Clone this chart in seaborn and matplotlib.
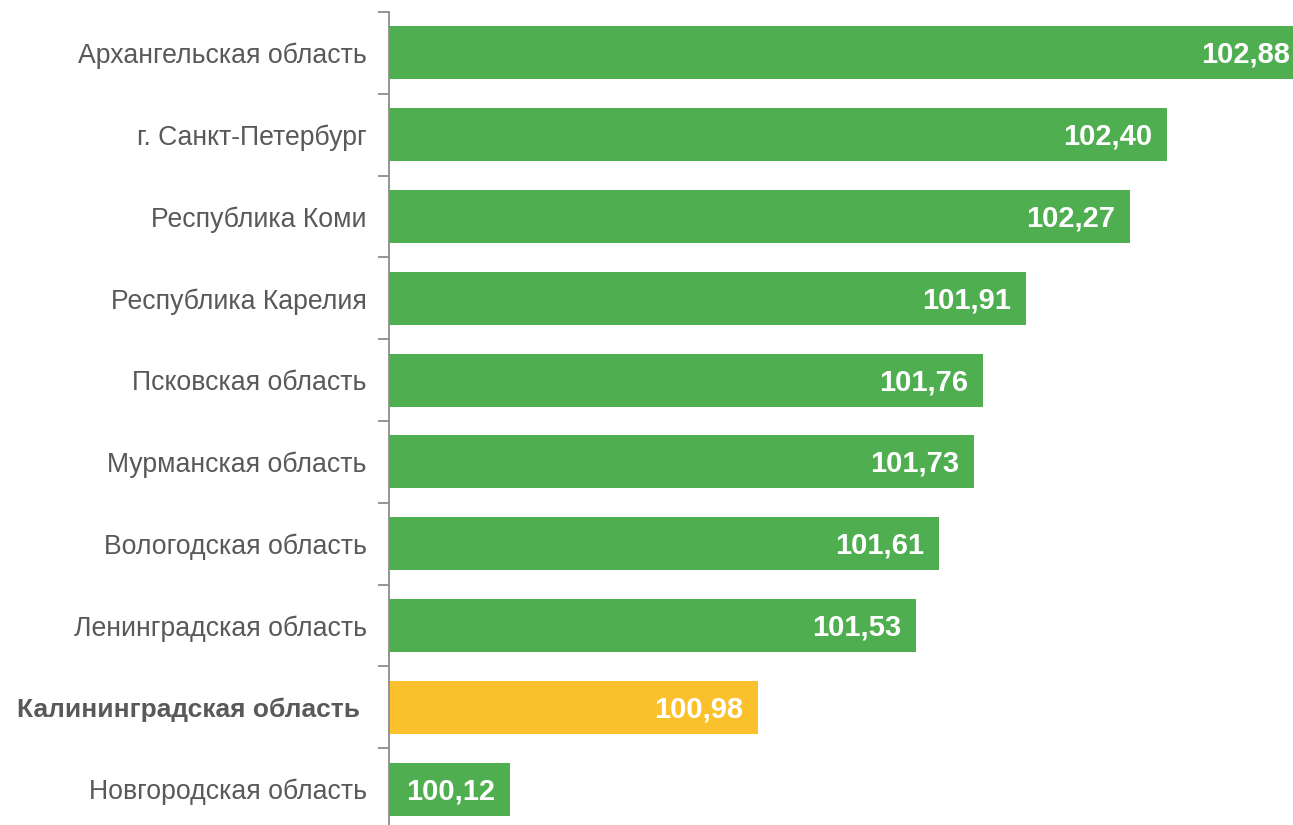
import matplotlib
matplotlib.use("Agg")
import matplotlib.pyplot as plt
import seaborn as sns
import pandas as pd
import numpy as np

regions = ["Архангельская область", "г. Санкт-Петербург", "Республика Коми",
           "Республика Карелия", "Псковская область", "Мурманская область",
           "Вологодская область", "Ленинградская область",
           "Калининградская область", "Новгородская область"]
values = [102.88, 102.40, 102.27, 101.91, 101.76, 101.73, 101.61, 101.53, 100.98, 100.12]
highlight = "Калининградская область"

sns.set_theme(style="white")
plt.rcParams['font.family'] = ['Liberation Sans', 'DejaVu Sans']

df = pd.DataFrame({"region": regions, "value": values})
df["group"] = np.where(df["region"] == highlight, "hl", "base")

W, H = 1293, 825
fig = plt.figure(figsize=(W / 100, H / 100), dpi=100)
top_px, bot_px, left_px = 12, 830, 389
ax = fig.add_axes([left_px / W, (H - bot_px) / H, (W - left_px) / W, (bot_px - top_px) / H])

sns.barplot(data=df, y="region", x="value", hue="group", orient="h",
            palette={"base": "#4EAE50", "hl": "#FBC12D"}, order=regions,
            width=0.65, legend=False, ax=ax, saturation=1)

x0 = 99.70
ax.set_xlim(x0, x0 + (W - left_px) / 288.2)
ax.set_ylim(len(regions) - 0.5, -0.5)

for p in ax.patches:
    p.set_edgecolor("none")

for i, v in enumerate(values):
    ax.annotate(f"{v:.2f}".replace(".", ","), xy=(v, i), xytext=(-15, -2),
                textcoords="offset pixels", ha="right", va="center",
                color="white", fontsize=21, fontweight="bold", annotation_clip=False,
                clip_on=False)

ax.set_xlabel("")
ax.set_ylabel("")
ax.set_xticks([])
ax.set_yticks(range(len(regions)))
ax.set_yticklabels(regions)
ax.set_yticks(np.arange(-0.5, len(regions), 1.0), minor=True)
ax.tick_params(axis="y", which="major", length=0, pad=16, labelsize=19.2, labelcolor="#595959")
ax.tick_params(axis="y", which="minor", length=8, width=1.3, color="#8C8C8C", left=True)
for lab in ax.get_yticklabels():
    if lab.get_text() == highlight:
        lab.set_fontweight("bold")
        lab.set_fontsize(19.0)
        lab.set_x(-0.0077)

for s in ["top", "right", "bottom"]:
    ax.spines[s].set_visible(False)
ax.spines["left"].set_color("#8C8C8C")
ax.spines["left"].set_linewidth(1.3)

fig.savefig("out.png", dpi=100)
